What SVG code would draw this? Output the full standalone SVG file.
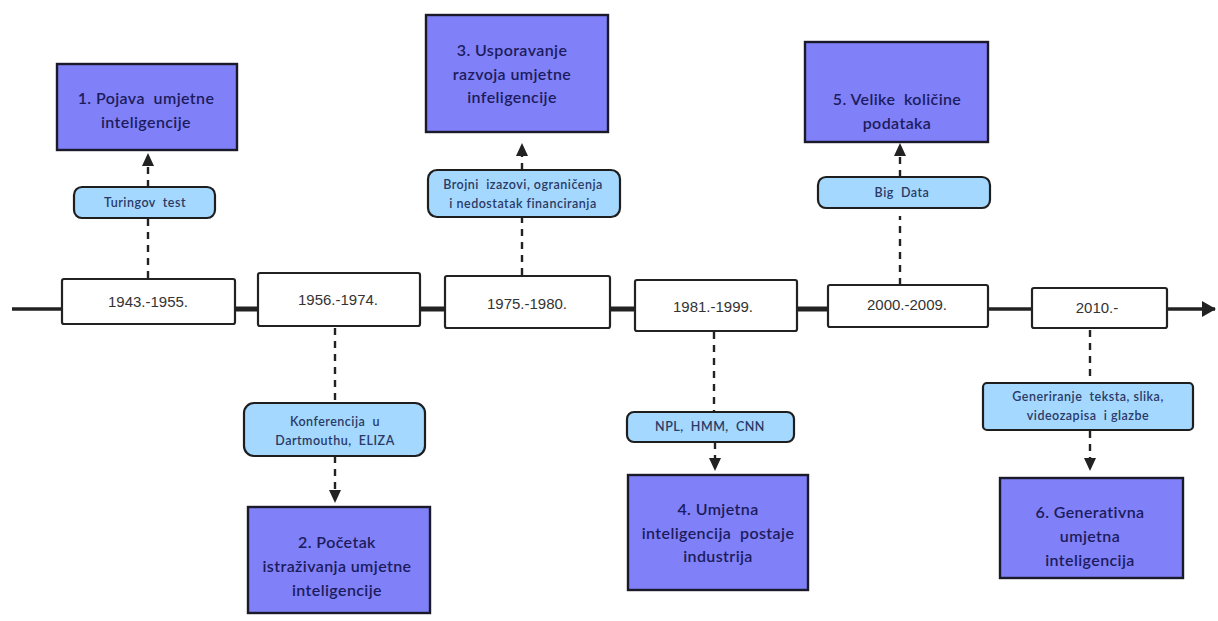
<svg xmlns="http://www.w3.org/2000/svg" width="1218" height="621" viewBox="0 0 1218 621" xml:space="preserve">
<style>
text{white-space:pre}
.date rect{fill:#fff;stroke:#222;stroke-width:2.2}
.date text{font-family:"Liberation Sans",sans-serif;font-size:15px;fill:#333;text-anchor:middle}
.era rect{fill:#8080f8;stroke:#1a1a2a;stroke-width:2.4}
.era text{font-family:"Lato","Liberation Sans",sans-serif;font-size:16px;font-weight:600;letter-spacing:0.4px;fill:#1c1c5c;text-anchor:middle}
.pill rect{fill:#a5d8ff;stroke:#1e1e1e;stroke-width:2.2}
.pill text{font-family:"Lato","Liberation Sans",sans-serif;font-size:12.5px;font-weight:600;letter-spacing:0.5px;fill:#2a3a66;text-anchor:middle}
.dash{stroke:#222;stroke-width:2.4;stroke-dasharray:7 6;fill:none}
.solid{stroke:#222;fill:none}
</style>
<defs>
<marker id="ah" markerWidth="14" markerHeight="16" refX="13" refY="8" orient="auto" markerUnits="userSpaceOnUse">
<path d="M0,0 L14,8 L0,16 Z" fill="#222"/>
</marker>
</defs>
<g id="connectors">
<line class="solid" x1="12" y1="309" x2="1215" y2="309" stroke-width="3.5" marker-end="url(#ah)"/>
<line class="solid" x1="235" y1="309" x2="835" y2="309" stroke-width="5"/>
<line class="dash" x1="148" y1="278" x2="148" y2="218"/>
<line class="dash" x1="148" y1="187" x2="148" y2="165"/>
<path d="M142,166 L154,166 L148,153 Z" fill="#222"/>
<line class="dash" x1="335" y1="328" x2="335" y2="403"/>
<line class="dash" x1="335" y1="456" x2="335" y2="490"/>
<path d="M329,490 L341,490 L335,503 Z" fill="#222"/>
<line class="dash" x1="522" y1="275" x2="522" y2="217"/>
<line class="dash" x1="522" y1="170" x2="522" y2="156"/>
<path d="M516,156 L528,156 L522,143 Z" fill="#222"/>
<line class="dash" x1="714" y1="332" x2="714" y2="411"/>
<line class="dash" x1="715" y1="442" x2="715" y2="458"/>
<path d="M709,458 L721,458 L715,471 Z" fill="#222"/>
<line class="dash" x1="900" y1="285" x2="900" y2="216"/>
<line class="dash" x1="900" y1="177" x2="900" y2="156"/>
<path d="M894,156 L906,156 L900,143 Z" fill="#222"/>
<line class="dash" x1="1090" y1="330" x2="1090" y2="383"/>
<line class="dash" x1="1090" y1="431" x2="1090" y2="458"/>
<path d="M1084,458 L1096,458 L1090,471 Z" fill="#222"/>
</g>
<g id="date1" class="date"><rect x="62" y="279" width="173" height="45" rx="2"/><text x="148" y="307">1943.-1955.</text></g>
<g id="date2" class="date"><rect x="258" y="273" width="162" height="53" rx="2"/><text x="338" y="305">1956.-1974.</text></g>
<g id="date3" class="date"><rect x="445" y="276" width="165" height="52" rx="2"/><text x="527" y="309">1975.-1980.</text></g>
<g id="date4" class="date"><rect x="635" y="280" width="162" height="51" rx="2"/><text x="713" y="312">1981.-1999.</text></g>
<g id="date5" class="date"><rect x="828" y="285" width="160" height="42" rx="2"/><text x="907" y="310">2000.-2009.</text></g>
<g id="date6" class="date"><rect x="1032" y="288" width="135" height="40" rx="2"/><text x="1097" y="313">2010.-</text></g>
<g id="era1" class="era"><rect x="57" y="64" width="180" height="86"/><text x="146" y="104">1. Pojava  umjetne</text><text x="146" y="128">inteligencije</text></g>
<g id="era2" class="era"><rect x="248" y="507" width="182" height="106"/><text x="337" y="548">2. Početak</text><text x="337" y="572">istraživanja umjetne</text><text x="337" y="596">inteligencije</text></g>
<g id="era3" class="era"><rect x="426" y="15" width="182" height="117"/><text x="512" y="56">3. Usporavanje</text><text x="512" y="80">razvoja umjetne</text><text x="512" y="103">infeligencije</text></g>
<g id="era4" class="era"><rect x="628" y="475" width="180" height="115"/><text x="718" y="515">4. Umjetna</text><text x="718" y="539">inteligencija  postaje</text><text x="718" y="562">industrija</text></g>
<g id="era5" class="era"><rect x="805" y="42" width="183" height="100"/><text x="897" y="105">5. Velike  količine</text><text x="897" y="129">podataka</text></g>
<g id="era6" class="era"><rect x="1000" y="478" width="183" height="100"/><text x="1090" y="518">6. Generativna</text><text x="1090" y="542">umjetna</text><text x="1090" y="566">inteligencija</text></g>
<g id="pill1" class="pill"><rect x="74" y="187" width="141" height="31" rx="8"/><text x="145" y="207">Turingov  test</text></g>
<g id="pill2" class="pill"><rect x="244" y="403" width="181" height="53" rx="10"/><text x="335" y="426">Konferencija  u</text><text x="335" y="445">Dartmouthu,  ELIZA</text></g>
<g id="pill3" class="pill"><rect x="428" y="170" width="192" height="47" rx="9"/><text x="523" y="189">Brojni  izazovi, ograničenja</text><text x="523" y="208">i nedostatak financiranja</text></g>
<g id="pill4" class="pill"><rect x="627" y="412" width="167" height="30" rx="7"/><text x="710" y="431">NPL,  HMM,  CNN</text></g>
<g id="pill5" class="pill"><rect x="818" y="177" width="172" height="31" rx="8"/><text x="902" y="197">Big  Data</text></g>
<g id="pill6" class="pill"><rect x="983" y="383" width="210" height="47" rx="4"/><text x="1088" y="401">Generiranje  teksta, slika,</text><text x="1088" y="420">videozapisa  i glazbe</text></g>
</svg>
